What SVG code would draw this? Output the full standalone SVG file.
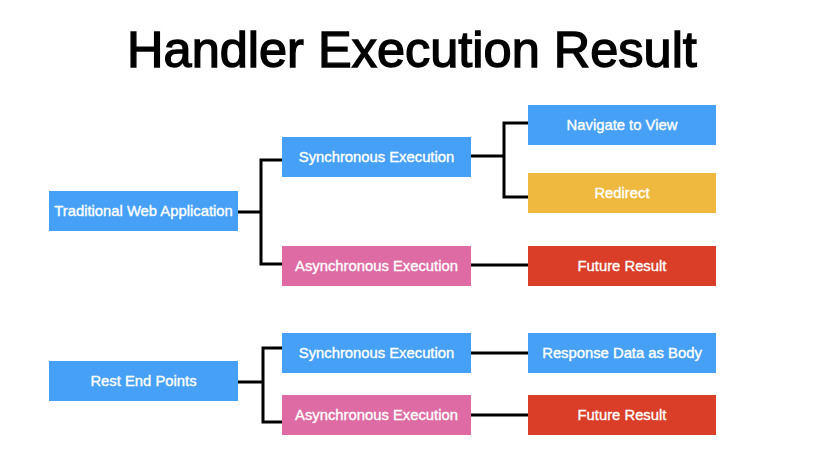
<svg xmlns="http://www.w3.org/2000/svg" width="826" height="461" viewBox="0 0 826 461">
<style>
.box{stroke:none}
.blue{fill:#46A1F6}
.pink{fill:#DE6BA4}
.yellow{fill:#EFB93F}
.red{fill:#DA3D28}
.lbl{font-family:"Liberation Sans",Arial,sans-serif;font-size:14.8px;fill:#fff;text-anchor:middle;stroke:#fff;stroke-width:0.35}
.title{font-family:"Liberation Sans",Arial,sans-serif;font-size:50.5px;fill:#000;text-anchor:middle;stroke:#000;stroke-width:1.4}
.conn{fill:none;stroke:#000;stroke-width:3;stroke-linejoin:miter;stroke-linecap:butt}
</style>
<rect width="826" height="461" fill="#fff"/>
<text class="title" x="412" y="67">Handler Execution Result</text>
<g id="connectors">
<path class="conn" d="M238,212 H261 M261,158.5 V265.5 M259.5,160 H283 M259.5,264 H283"/>
<path class="conn" d="M471,156 H504 M504,121.5 V198.5 M502.5,123 H528 M502.5,197 H528"/>
<path class="conn" d="M471,265 H528"/>
<path class="conn" d="M238,382 H263 M263,346.5 V423.5 M261.5,348 H282 M261.5,422 H282"/>
<path class="conn" d="M471,353 H528"/>
<path class="conn" d="M471,415 H528"/>
</g>
<g id="twa"><rect class="box blue" x="49" y="191" width="189" height="40"/><text class="lbl" x="143.5" y="216">Traditional Web Application</text></g>
<g id="sync1"><rect class="box blue" x="282" y="137" width="189" height="40"/><text class="lbl" x="376.5" y="162">Synchronous Execution</text></g>
<g id="async1"><rect class="box pink" x="282" y="246" width="189" height="40"/><text class="lbl" x="376.5" y="271">Asynchronous Execution</text></g>
<g id="nav"><rect class="box blue" x="528" y="105" width="188" height="40"/><text class="lbl" x="622" y="130">Navigate to View</text></g>
<g id="redirect"><rect class="box yellow" x="528" y="173" width="188" height="40"/><text class="lbl" x="622" y="198">Redirect</text></g>
<g id="future1"><rect class="box red" x="528" y="246" width="188" height="40"/><text class="lbl" x="622" y="271">Future Result</text></g>
<g id="rest"><rect class="box blue" x="49" y="361" width="189" height="40"/><text class="lbl" x="143.5" y="386">Rest End Points</text></g>
<g id="sync2"><rect class="box blue" x="282" y="333" width="189" height="40"/><text class="lbl" x="376.5" y="358">Synchronous Execution</text></g>
<g id="async2"><rect class="box pink" x="282" y="395" width="189" height="40"/><text class="lbl" x="376.5" y="420">Asynchronous Execution</text></g>
<g id="response"><rect class="box blue" x="528" y="333" width="188" height="40"/><text class="lbl" x="622" y="358">Response Data as Body</text></g>
<g id="future2"><rect class="box red" x="528" y="395" width="188" height="40"/><text class="lbl" x="622" y="420">Future Result</text></g>
</svg>
